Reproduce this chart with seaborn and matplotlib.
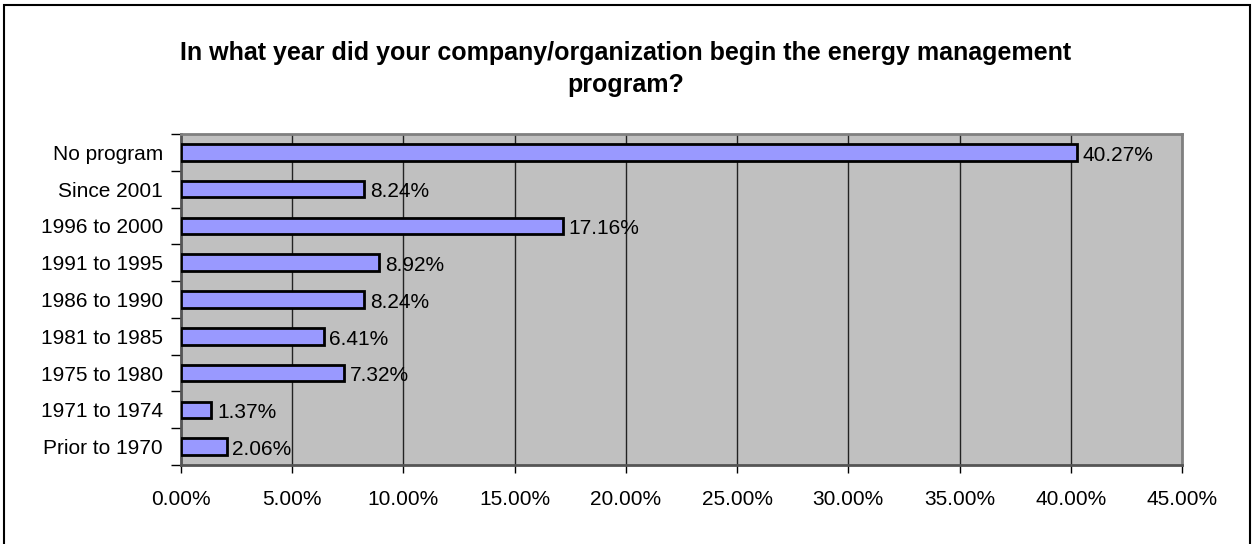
import matplotlib
matplotlib.use("Agg")
import matplotlib.pyplot as plt
import seaborn as sns
import pandas as pd
from matplotlib.patches import Rectangle
from matplotlib.ticker import FixedLocator, MultipleLocator, FuncFormatter

categories = ["No program", "Since 2001", "1996 to 2000", "1991 to 1995", "1986 to 1990",
              "1981 to 1985", "1975 to 1980", "1971 to 1974", "Prior to 1970"]
values = [40.27, 8.24, 17.16, 8.92, 8.24, 6.41, 7.32, 1.37, 2.06]
value_labels = ["40.27%", "8.24%", "17.16%", "8.92%", "8.24%", "6.41%", "7.32%", "1.37%", "2.06%"]
title = "In what year did your company/organization begin the energy management\nprogram?"

sns.set_style("white")
plt.rcParams['font.family'] = ['Liberation Sans', 'DejaVu Sans']
plt.rcParams['text.color'] = 'black'
plt.rcParams['xtick.color'] = 'black'
plt.rcParams['ytick.color'] = 'black'

df = pd.DataFrame({"category": categories, "value": values})

W, H = 1252, 544
fig = plt.figure(figsize=(W / 100, H / 100), dpi=100)
ax = fig.add_axes([181 / W, (H - 465) / H, (1182 - 181) / W, (465 - 134) / H])

sns.barplot(data=df, x="value", y="category", orient="h", color="#9999FF",
            saturation=1, edgecolor="black", linewidth=2, width=0.45, ax=ax, zorder=3)

ax.set_facecolor("#C0C0C0")
ax.set_xlim(0, 45)
ax.set_ylim(len(categories) - 0.5, -0.5)
ax.set_xlabel("")
ax.set_ylabel("")

ax.xaxis.set_major_locator(MultipleLocator(5))
ax.xaxis.set_major_formatter(FuncFormatter(lambda v, p: f"{v:.2f}%"))
ax.grid(axis="x", color="#222222", linewidth=1.0, zorder=1)
ax.grid(axis="y", visible=False)
ax.set_axisbelow(True)

# y ticks at category boundaries, labels at centres
ax.yaxis.set_minor_locator(FixedLocator([i - 0.5 for i in range(len(categories) + 1)]))
ax.tick_params(axis="y", which="major", length=0, pad=13, labelsize=15, labelcolor="black")
ax.tick_params(axis="y", which="minor", length=7, width=1, color="black", direction="out", left=True)
ax.tick_params(axis="x", which="major", length=6, width=1, color="black", direction="out",
               pad=12, labelsize=15, bottom=True, labelcolor="black")

for s in ax.spines.values():
    s.set_color("#808080")
    s.set_linewidth(2)
ax.spines["left"].set_color("#555555")
ax.spines["bottom"].set_color("#555555")

for i, (v, lab) in enumerate(zip(values, value_labels)):
    ax.annotate(lab, xy=(v, i), xytext=(4, -2), textcoords="offset points",
                ha="left", va="center", fontsize=15, color="black", zorder=5)

fig.text(0.5, 1 - 69 / H, title, ha="center", va="center", multialignment="center",
         fontsize=18, fontweight="bold", linespacing=1.4, color="black")

fig.patches.append(Rectangle((4 / W, -0.01), (1250 - 4) / W, (H - 5) / H + 0.01,
                             transform=fig.transFigure, fill=False, edgecolor="black",
                             linewidth=1.5, zorder=10))

fig.savefig("out.png", dpi=100)
